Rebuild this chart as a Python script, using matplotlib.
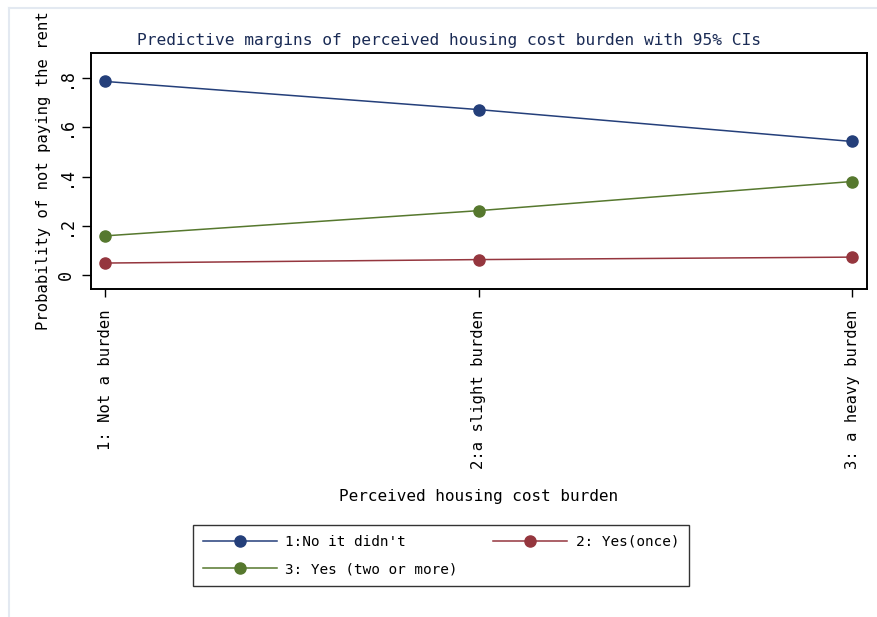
import matplotlib
matplotlib.use("Agg")
import matplotlib.pyplot as plt
from matplotlib.lines import Line2D

plt.rcParams['font.family'] = ['DejaVu Sans Mono', 'DejaVu Sans']

categories = ["1: Not a burden", "2:a slight burden", "3: a heavy burden"]
series_names = ["1:No it didn't", "2: Yes(once)", "3: Yes (two or more)"]
no_it_didnt = [0.785, 0.671, 0.542]
yes_once = [0.050, 0.064, 0.074]
yes_two_more = [0.160, 0.262, 0.380]
y_ticks = [0, 0.2, 0.4, 0.6, 0.8]
y_tick_labels = ["0", ".2", ".4", ".6", ".8"]
colors = ["#243f7a", "#95363e", "#56782e"]

W, H = 878, 617
fig = plt.figure(figsize=(W / 100, H / 100), dpi=100)
fig.patch.set_facecolor("white")

# light outer frame
fig.add_artist(Line2D([9 / W, 1], [1 - 8 / H, 1 - 8 / H], color="#e3e9f1", lw=1.5))
fig.add_artist(Line2D([9 / W, 9 / W], [0, 1 - 8 / H], color="#e3e9f1", lw=1.5))

left, right, top, bottom = 91, 867, 53, 289
ax = fig.add_axes([left / W, 1 - bottom / H, (right - left) / W, (bottom - top) / H])

x = [1, 2, 3]
handles = []
for vals, name, c in zip([no_it_didnt, yes_once, yes_two_more], series_names, colors):
    h, = ax.plot(x, vals, color=c, lw=1.1, marker="o", markersize=8, label=name)
    handles.append(h)

ax.set_xlim(0.9625, 3.04)
ax.set_ylim(-0.055, 0.9)
ax.set_yticks(y_ticks)
ax.set_yticklabels(y_tick_labels, rotation=90, va="center", fontsize=12)
ax.set_xticks(x)
ax.set_xticklabels(categories, rotation=90, fontsize=11.2)
ax.tick_params(axis="y", length=6.5, width=1, pad=5)
ax.tick_params(axis="x", length=6, width=1, pad=9)
for s in ax.spines.values():
    s.set_linewidth(1.4)

ax.set_ylabel("Probability of not paying the rent", fontsize=11.2, labelpad=4)
fig.text(479 / W, 1 - 496 / H, "Perceived housing cost burden", fontsize=11.5,
         ha="center", va="center")
fig.text(449 / W, 1 - 40 / H,
         "Predictive margins of perceived housing cost burden with 95% CIs",
         fontsize=11.7, color="#1a2b55", ha="center", va="center")

# row-major order: 1 and 2 on the first row, 3 on the second
order = [0, 2, 1]
leg = fig.legend([handles[i] for i in order], [series_names[i] for i in order],
                 loc="center", bbox_to_anchor=(441 / W, 1 - 555.5 / H), ncol=2,
                 fontsize=10.4, frameon=True, fancybox=False, edgecolor="black",
                 handlelength=5.1, handletextpad=0.6, columnspacing=2.45,
                 borderpad=0.7, labelspacing=0.95)
leg.get_frame().set_linewidth(1.0)

fig.savefig("out.png", dpi=100)
